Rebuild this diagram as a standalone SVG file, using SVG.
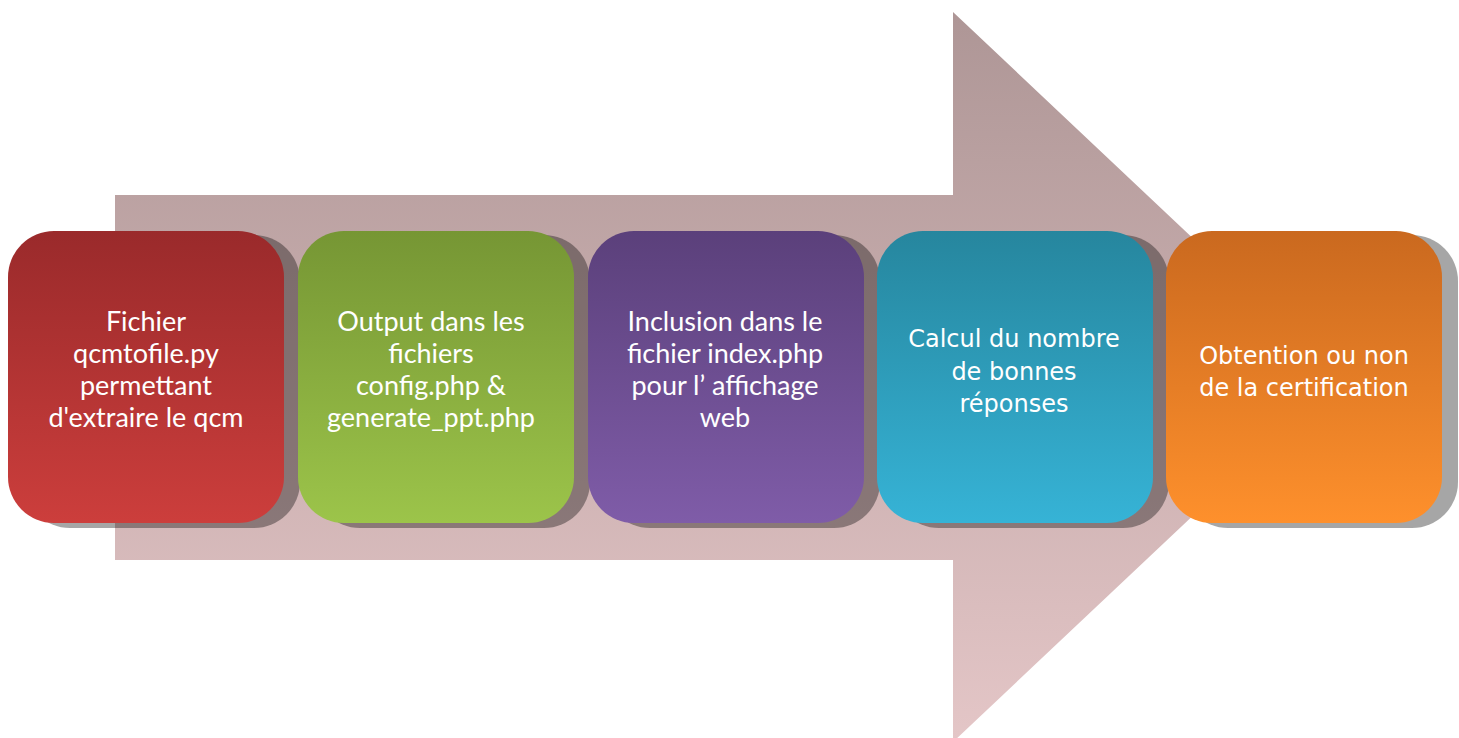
<svg xmlns="http://www.w3.org/2000/svg" width="1459" height="738" viewBox="0 0 1459 738">
<style>
.sh{fill:#000;fill-opacity:0.35}
.t1{font-family:Lato,"Liberation Sans",sans-serif;font-size:27px;fill:#fff;text-anchor:middle}
.t2{font-family:"DejaVu Sans",Verdana,sans-serif;font-size:24px;fill:#fff;text-anchor:middle}
</style>
<defs>
<linearGradient id="ga" x1="0" y1="0" x2="0" y2="1"><stop offset="0" stop-color="#ae9696"/><stop offset="1" stop-color="#e4c6c7"/></linearGradient>
<linearGradient id="g1" x1="0" y1="0" x2="0" y2="1"><stop offset="0" stop-color="#9a2a2b"/><stop offset="1" stop-color="#cc3e3c"/></linearGradient>
<linearGradient id="g2" x1="0" y1="0" x2="0" y2="1"><stop offset="0" stop-color="#769634"/><stop offset="1" stop-color="#9cc44a"/></linearGradient>
<linearGradient id="g3" x1="0" y1="0" x2="0" y2="1"><stop offset="0" stop-color="#5b407b"/><stop offset="1" stop-color="#7f5ca8"/></linearGradient>
<linearGradient id="g4" x1="0" y1="0" x2="0" y2="1"><stop offset="0" stop-color="#26869e"/><stop offset="1" stop-color="#36b3d6"/></linearGradient>
<linearGradient id="g5" x1="0" y1="0" x2="0" y2="1"><stop offset="0" stop-color="#ca691f"/><stop offset="1" stop-color="#fe902c"/></linearGradient>
</defs>
<g id="arrow">
<polygon points="115,195 953,195 953,12 1340,377 953,742 953,560 115,560" fill="url(#ga)"/>
</g>
<g id="connectors"></g>
<g id="n1">
<rect class="sh" x="24" y="235" width="276" height="293" rx="46"/>
<rect x="8" y="231" width="276" height="292" rx="46" fill="url(#g1)"/>
<text class="t1" x="146" y="331">Fichier</text>
<text class="t1" x="146" y="363">qcmtofile.py</text>
<text class="t1" x="146" y="395">permettant</text>
<text class="t1" x="146" y="427">d'extraire le qcm</text>
</g>
<g id="n2">
<rect class="sh" x="314" y="235" width="276" height="293" rx="46"/>
<rect x="298" y="231" width="276" height="292" rx="46" fill="url(#g2)"/>
<text class="t1" x="431" y="331">Output dans les</text>
<text class="t1" x="431" y="363">fichiers</text>
<text class="t1" x="431" y="395">config.php &amp;</text>
<text class="t1" x="431" y="427">generate_ppt.php</text>
</g>
<g id="n3">
<rect class="sh" x="604" y="235" width="276" height="293" rx="46"/>
<rect x="588" y="231" width="276" height="292" rx="46" fill="url(#g3)"/>
<text class="t1" x="725" y="331">Inclusion dans le</text>
<text class="t1" x="725" y="363">fichier index.php</text>
<text class="t1" x="725" y="395">pour l’ affichage</text>
<text class="t1" x="725" y="427">web</text>
</g>
<g id="n4">
<rect class="sh" x="893" y="235" width="276" height="293" rx="46"/>
<rect x="877" y="231" width="276" height="292" rx="46" fill="url(#g4)"/>
<text class="t2" x="1014" y="347">Calcul du nombre</text>
<text class="t2" x="1014" y="380">de bonnes</text>
<text class="t2" x="1014" y="412">réponses</text>
</g>
<g id="n5">
<rect class="sh" x="1182" y="235" width="276" height="293" rx="46"/>
<rect x="1166" y="231" width="276" height="292" rx="46" fill="url(#g5)"/>
<text class="t2" x="1304" y="364">Obtention ou non</text>
<text class="t2" x="1304" y="396">de la certification</text>
</g>
</svg>
